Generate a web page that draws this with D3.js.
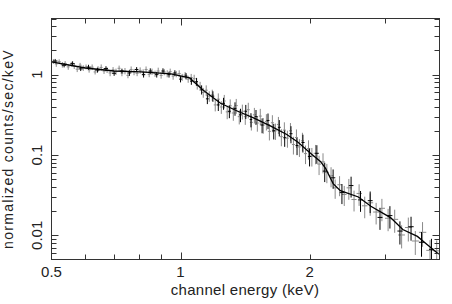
<!DOCTYPE html>
<html><head><meta charset="utf-8">
<script src="https://cdn.jsdelivr.net/npm/d3@7"></script>
<style>html,body{margin:0;padding:0;background:#fff;}svg{display:block;}</style>
</head><body>
<svg id="c" width="452" height="304"></svg>
<script>
// ---- data ----
const grayE = [0.505,0.513,0.521,0.530,0.538,0.547,0.556,0.565,0.574,0.583,
  0.593,0.602,0.612,0.622,0.632,0.642,0.653,0.663,0.674,0.685,
  0.696,0.707,0.719,0.730,0.742,0.754,0.767,0.779,0.792,0.805,
  0.818,0.831,0.845,0.858,0.872,0.887,0.901,0.916,0.931,0.946,
  0.961,0.977,0.993,1.009,1.025,1.042,1.059,1.076,1.094,1.111,
  1.130,1.148,1.167,1.186,1.205,1.225,1.245,1.265,1.285,1.306,
  1.328,1.349,1.371,1.394,1.416,1.439,1.463,1.487,1.511,1.535,
  1.560,1.586,1.612,1.638,1.665,1.692,1.719,1.747,1.776,1.805,
  1.834,1.864,1.894,1.925,1.957,1.989,2.025,2.065,2.105,2.15,
  2.195,2.245,2.295,2.35,2.41,2.47,2.54,2.61,2.69,2.77,
  2.86,2.95,3.05,3.16,3.28,3.40,3.53,3.67,3.82,3.96];
const grayV = [1.46,1.36,1.45,1.33,1.38,1.25,1.35,1.28,1.17,1.31,
  1.21,1.25,1.15,1.24,1.08,1.18,1.23,1.11,1.14,1.05,
  1.15,1.09,1.20,1.05,1.11,0.98,1.16,1.08,1.04,1.13,
  1.07,1.16,1.01,1.09,1.03,1.11,0.98,1.08,1.03,1.09,
  0.96,1.02,1.03,0.93,0.99,0.88,0.92,0.89,0.74,0.72,
  0.60,0.64,0.54,0.56,0.42,0.495,0.396,0.47,0.344,0.41,
  0.333,0.412,0.300,0.35,0.30,0.366,0.255,0.316,0.25,0.305,
  0.236,0.262,0.197,0.252,0.20,0.24,0.169,0.204,0.162,0.20,
  0.135,0.165,0.126,0.15,0.104,0.12,0.097,0.105,0.077,0.082,
  0.061,0.055,0.039,0.0426,0.0322,0.039,0.0279,0.0332,0.0233,0.0254,
  0.0195,0.0217,0.0163,0.0158,0.0101,0.0125,0.0085,0.0109,0.0065,0.0064];
const grayErr = [0.07,0.08,0.07,0.08,0.07,0.08,0.07,0.08,0.08,0.07,
  0.08,0.07,0.08,0.08,0.07,0.08,0.09,0.08,0.08,0.09,
  0.08,0.09,0.08,0.09,0.09,0.08,0.09,0.09,0.08,0.09,
  0.09,0.09,0.08,0.09,0.09,0.10,0.09,0.09,0.10,0.09,
  0.10,0.09,0.10,0.10,0.09,0.10,0.11,0.12,0.12,0.13,
  0.14,0.15,0.15,0.16,0.17,0.18,0.18,0.19,0.19,0.20,
  0.20,0.21,0.20,0.21,0.21,0.22,0.21,0.22,0.22,0.23,
  0.22,0.23,0.23,0.24,0.23,0.24,0.24,0.25,0.24,0.25,
  0.25,0.26,0.25,0.26,0.26,0.27,0.26,0.27,0.27,0.28,
  0.27,0.28,0.27,0.28,0.28,0.29,0.29,0.30,0.30,0.31,
  0.30,0.31,0.31,0.32,0.32,0.33,0.33,0.34,0.34,0.35];

const blackE = [0.51,0.535,0.56,0.585,0.61,0.64,0.67,0.70,0.73,0.76,
  0.79,0.82,0.85,0.88,0.91,0.94,0.97,1.00,1.03,1.06,
  1.09,1.12,1.155,1.19,1.225,1.26,1.30,1.34,1.38,1.42,
  1.46,1.50,1.55,1.60,1.65,1.70,1.75,1.81,1.87,1.93,
  2.00,2.08,2.17,2.27,2.38,2.50,2.63,2.77,2.92,3.08,
  3.25,3.45,3.65,3.85];
const blackV = [1.48,1.31,1.37,1.18,1.24,1.14,1.19,1.04,1.11,1.05,
  1.16,1.00,1.11,1.00,1.11,1.00,1.05,0.88,0.96,0.83,
  0.82,0.65,0.50,0.54,0.42,0.44,0.35,0.38,0.316,0.35,
  0.276,0.30,0.236,0.269,0.20,0.221,0.164,0.184,0.131,0.143,
  0.096,0.105,0.063,0.052,0.034,0.0416,0.0276,0.027,0.0167,0.0176,
  0.0113,0.0128,0.0082,0.0067];
const blackErr = [0.06,0.06,0.07,0.06,0.07,0.07,0.07,0.07,0.07,0.08,
  0.07,0.08,0.08,0.08,0.08,0.08,0.08,0.09,0.09,0.10,
  0.11,0.13,0.14,0.15,0.16,0.17,0.18,0.19,0.19,0.20,
  0.20,0.21,0.21,0.22,0.22,0.23,0.23,0.24,0.24,0.25,
  0.25,0.26,0.27,0.27,0.28,0.29,0.29,0.30,0.30,0.31,
  0.32,0.33,0.34,0.35];

const modelE = [0.5,0.6,0.70,0.81,0.95,1.05,1.13,1.24,1.36,1.48,1.62,1.77,1.88,2.01,2.12,2.18,2.27,2.36,2.60,2.78,3.09,3.3,3.57,3.76,3.96,4.02];
const modelV = [1.44,1.21,1.11,1.08,1.02,0.91,0.64,0.44,0.35,0.29,0.23,0.18,0.144,0.105,0.083,0.068,0.044,0.036,0.030,0.023,0.0166,0.0118,0.0097,0.0077,0.0061,0.0058];

const xTickLabels = [0.5, 1, 2];
const xMinorTicks = [0.6, 0.7, 0.8, 0.9, 2, 3];
const xMajorTicks = [1];
const yTickLabels = [0.01, 0.1, 1];
const yMinorTicks = [0.006,0.007,0.008,0.009,0.02,0.03,0.04,0.05,0.06,0.07,0.08,0.09,0.2,0.3,0.4,0.5,0.6,0.7,0.8,0.9,2,3,4,5];

// ---- layout ----
const L = 51.5, R = 439.5, T = 18.5, B = 259.5;
const x = d3.scaleLog().domain([0.5, 4.02]).range([L, R]);
const y = d3.scaleLog().domain([0.005, 5.0]).range([B, T]);
const svg = d3.select("#c");
const font = "'Liberation Sans', Arial, sans-serif";

svg.append("defs").append("clipPath").attr("id","clip")
  .append("rect").attr("x",L).attr("y",T).attr("width",R-L).attr("height",B-T);

const plot = svg.append("g").attr("clip-path","url(#clip)");

function drawSeries(E, V, Er, color, wf){
  const g = plot.append("g").attr("stroke", color).attr("stroke-width", 1).attr("fill","none");
  E.forEach((e, i) => {
    const lo = i > 0 ? Math.sqrt(E[i-1]*e) : e*e/Math.sqrt(e*E[i+1]);
    const hi = i < E.length-1 ? Math.sqrt(E[i+1]*e) : e*e/Math.sqrt(e*E[i-1]);
    const xc = x(e);
    const v = V[i], er = Er[i]*v;
    const yc = y(v);
    g.append("line").attr("x1", xc - (xc - x(lo))*wf).attr("x2", xc + (x(hi) - xc)*wf).attr("y1", yc).attr("y2", yc);
    g.append("line").attr("x1", xc).attr("x2", xc).attr("y1", y(v+er)).attr("y2", y(Math.max(v-er, v*0.3)));
  });
}
drawSeries(grayE, grayV, grayErr, "#8a8a8a", 1);
drawSeries(blackE, blackV, blackErr, "#000", 0.5);

const line = d3.line().x((d,i)=>x(modelE[i])).y((d,i)=>y(modelV[i]));
plot.append("path").datum(modelE).attr("d", line)
  .attr("fill","none").attr("stroke","#000").attr("stroke-width",1.3);

// ---- frame & ticks ----
const ax = svg.append("g").attr("stroke","#333").attr("stroke-width",1).attr("fill","none");
ax.append("rect").attr("x",L).attr("y",T).attr("width",R-L).attr("height",B-T);
function xt(v, len){
  const px = Math.round(x(v)) + 0.5;
  ax.append("line").attr("x1",px).attr("x2",px).attr("y1",B).attr("y2",B-len);
  ax.append("line").attr("x1",px).attr("x2",px).attr("y1",T).attr("y2",T+len);
}
function yt(v, len){
  const py = Math.round(y(v)) + 0.5;
  ax.append("line").attr("x1",L).attr("x2",L+len).attr("y1",py).attr("y2",py);
  ax.append("line").attr("x1",R).attr("x2",R-len).attr("y1",py).attr("y2",py);
}
xMinorTicks.forEach(v=>xt(v,5));
xMajorTicks.forEach(v=>xt(v,7));
yMinorTicks.forEach(v=>yt(v,5));
yTickLabels.forEach(v=>yt(v,7));

// ---- labels ----
const fmt = v => String(v);
svg.selectAll("text.xl").data(xTickLabels).enter().append("text")
  .attr("x", d=>x(d)).attr("y", 277).attr("text-anchor","middle")
  .attr("font-family", font).attr("font-size", 15).attr("fill","#222").text(fmt);
svg.selectAll("text.yl").data(yTickLabels).enter().append("text")
  .attr("transform", d=>`translate(42,${y(d)}) rotate(-90)`).attr("text-anchor","middle")
  .attr("font-family", font).attr("font-size", 15).attr("fill","#222").text(fmt);
svg.append("text").attr("x", 245).attr("y", 295).attr("text-anchor","middle")
  .attr("font-family", font).attr("font-size", 15).attr("letter-spacing", 0.3).attr("fill","#222").text("channel energy (keV)");
svg.append("text").attr("transform","translate(13,149) rotate(-90)").attr("text-anchor","middle")
  .attr("font-family", font).attr("font-size", 14).attr("letter-spacing", 1.3).attr("fill","#222").text("normalized counts/sec/keV");
</script>
</body></html>
